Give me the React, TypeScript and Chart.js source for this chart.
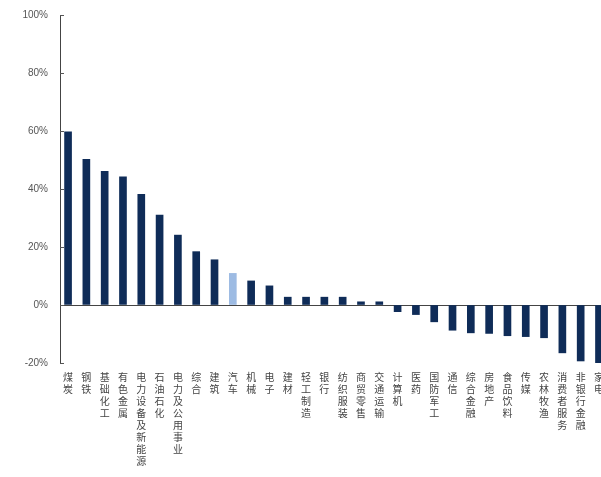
import React, { useEffect, useRef } from "react";
import { Chart, registerables } from "chart.js";

Chart.register(...registerables);

const categories = [
  "煤炭", "钢铁", "基础化工", "有色金属", "电力设备及新能源", "石油石化", "电力及公用事业",
  "综合", "建筑", "汽车", "机械", "电子", "建材", "轻工制造", "银行", "纺织服装",
  "商贸零售", "交通运输", "计算机", "医药", "国防军工", "通信", "综合金融", "房地产",
  "食品饮料", "传媒", "农林牧渔", "消费者服务", "非银行金融", "家电",
];

const values = [
  59.7, 50.2, 46.1, 44.2, 38.2, 31.0, 24.1, 18.4, 15.6, 10.9, 8.3, 6.6, 2.7, 2.7, 2.7,
  2.7, 1.1, 1.1, -2.3, -3.3, -5.8, -8.7, -9.6, -9.8, -10.6, -10.9, -11.3, -16.5, -19.3, -20.5,
];

const highlight = "汽车";

const yTicks = [-20, 0, 20, 40, 60, 80, 100];

const navy = "#0f2c58";
const lightBlue = "#9dbbe3";

const innerTicks = {
  id: "innerTicks",
  afterDraw(chart: any) {
    const y = chart.scales.y;
    const ctx = chart.ctx;
    ctx.save();
    ctx.strokeStyle = "#555";
    ctx.lineWidth = 1;
    for (const v of yTicks) {
      const py = Math.round(y.getPixelForValue(v)) + 0.5;
      ctx.beginPath();
      ctx.moveTo(chart.chartArea.left, py);
      ctx.lineTo(chart.chartArea.left + 4, py);
      ctx.stroke();
    }
    ctx.restore();
  },
};

export default function App() {
  const ref = useRef<HTMLCanvasElement>(null);
  useEffect(() => {
    const chart = new Chart(ref.current!, {
      type: "bar",
      data: {
        datasets: [
          {
            data: values.map((v, i) => ({ x: i, y: v })),
            backgroundColor: categories.map((c) => (c === highlight ? lightBlue : navy)),
            barThickness: 7,
          },
        ],
      },
      options: {
        animation: false,
        responsive: false,
        maintainAspectRatio: false,
        layout: { padding: { top: 0, right: 0, left: 0, bottom: 0 } },
        plugins: { legend: { display: false }, tooltip: { enabled: false } },
        scales: {
          x: {
            type: "linear",
            min: -0.44,
            max: 29.11,
            offset: false,
            afterBuildTicks: (s: any) => {
              s.ticks = categories.map((_, i) => ({ value: i }));
            },
            afterFit: (s: any) => {
              s.paddingLeft = 0;
              s.paddingRight = 0;
            },
            grid: { display: false, drawTicks: false },
            border: { display: false },
            ticks: {
              autoSkip: false,
              maxRotation: 0,
              minRotation: 0,
              padding: 8,
              color: "#444",
              font: { family: "'Noto Sans CJK SC'", size: 10, lineHeight: 1.2 },
              callback: (v: any) => (categories[v] ? categories[v].split("") : ""),
            },
          },
          y: {
            min: -20,
            max: 100,
            afterBuildTicks: (s: any) => {
              s.ticks = yTicks.map((v) => ({ value: v }));
            },
            afterFit: (s: any) => {
              s.width = 52;
            },
            grid: {
              drawTicks: false,
              color: (c: any) => (c.tick && c.tick.value === 0 ? "#444" : "transparent"),
              lineWidth: 1,
            },
            border: { display: true, color: "#444", width: 1 },
            ticks: {
              padding: 12,
              color: "#555",
              font: { family: "'Liberation Sans', Arial", size: 10 },
              callback: (v: any) => v + "%",
            },
          },
        },
      },
      plugins: [innerTicks],
    });
    return () => chart.destroy();
  }, []);
  return (
    <div
      style={{
        position: "fixed",
        left: 0,
        top: 0,
        width: 601,
        height: 477,
        overflow: "hidden",
        background: "#fff",
      }}
    >
      <canvas
        ref={ref}
        width={593}
        height={478}
        style={{ position: "absolute", left: 8, top: -3, display: "block" }}
      />
    </div>
  );
}
